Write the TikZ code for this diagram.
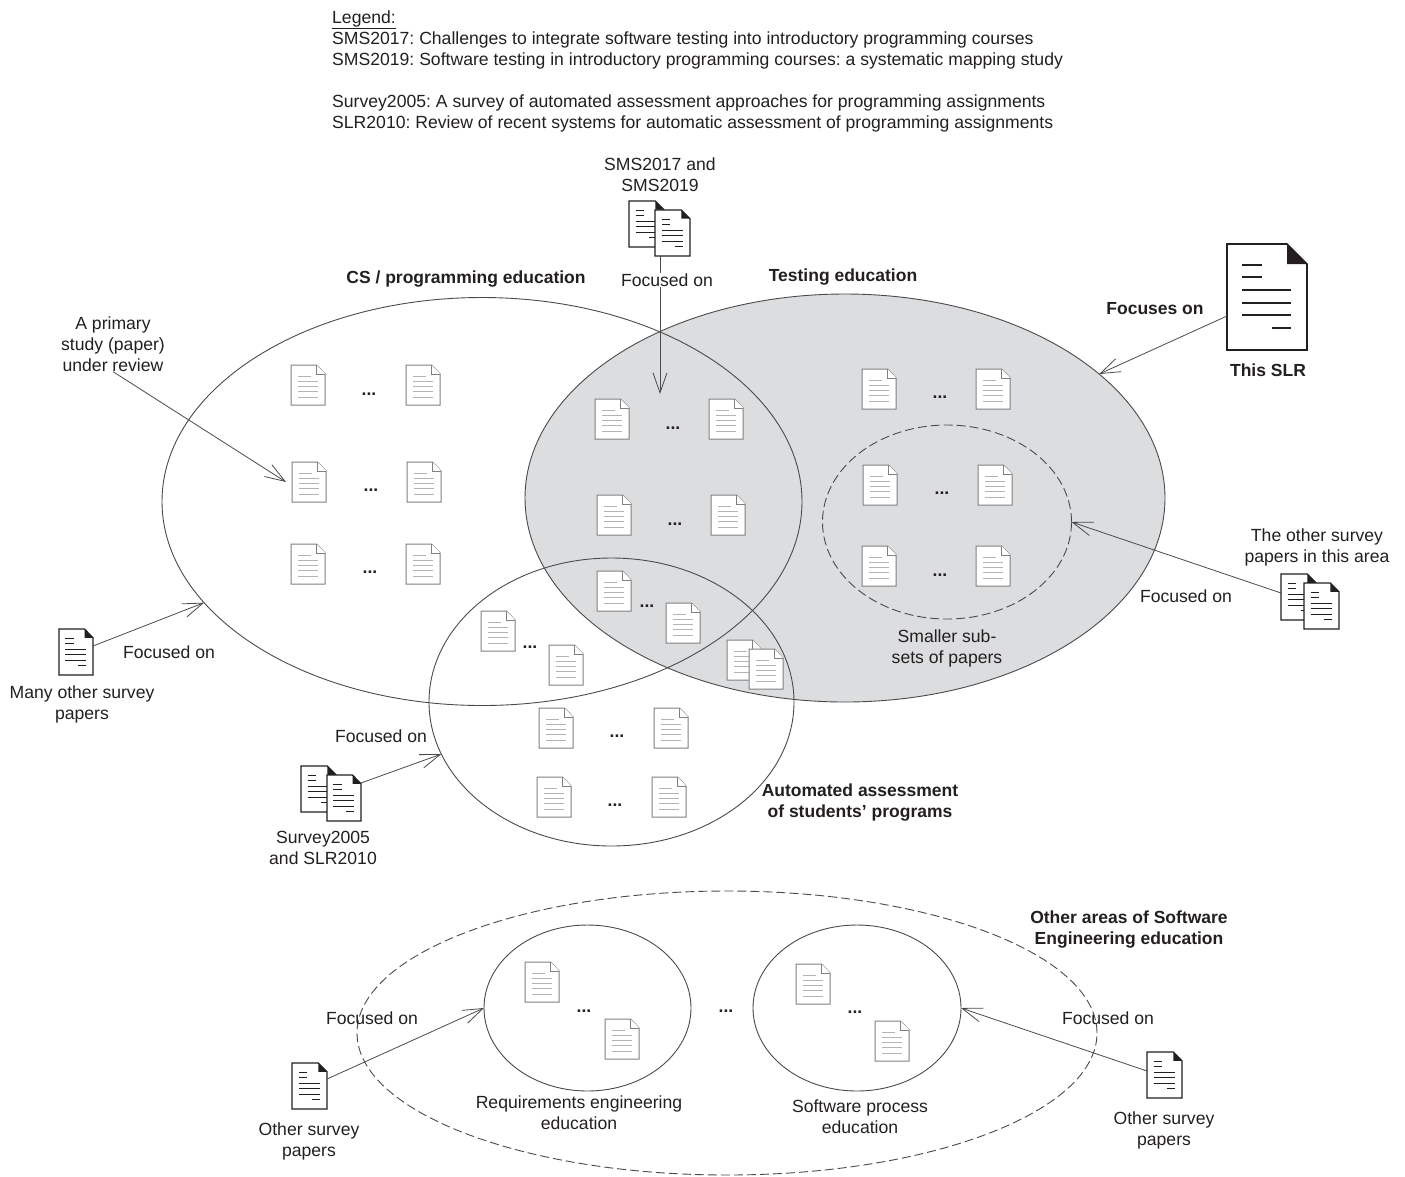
\documentclass[tikz,border=0pt]{standalone}
\usepackage{fontspec}
\setmainfont{Liberation Sans}
\usetikzlibrary{shapes.geometric,arrows.meta,calc}
\frenchspacing
\definecolor{linegray}{HTML}{4A4A4A}
\definecolor{regionfill}{HTML}{DCDDDF}
\definecolor{docgray}{HTML}{808080}
\definecolor{doclines}{HTML}{B4B4B4}
\definecolor{inkc}{HTML}{231F20}
\tikzset{
  region/.style={ellipse,draw=linegray,line width=0.9pt,inner sep=0pt,outer sep=0pt},
  regiondash/.style={region,dash pattern=on 9pt off 4pt},
  lab/.style={inner sep=0pt,align=center,text=inkc,font=\fontsize{17.6}{21}\selectfont},
  blab/.style={lab,font=\fontsize{17.5}{21}\selectfont\bfseries},
  labw/.style={lab,fill=white,inner xsep=0pt,inner ysep=1pt},
  dotsl/.style={inner sep=0pt,text=inkc,anchor=base,font=\fontsize{17.5}{21}\selectfont\bfseries},
  conn/.style={draw=linegray,line width=0.8pt,-{Straight Barb[length=20pt,width=14pt]}},
  docbox/.style={inner sep=0pt,outer sep=0pt},
}
\newcommand{\sdoc}[3]{%
 \begin{scope}[shift={(#2,#3)},x=34pt,y=-40pt]
  \node[docbox,minimum width=34pt,minimum height=40pt] (#1) at (.5,.5) {};
  \draw[docgray,line width=1pt,fill=white,line join=miter] (0,0) -- (.75,0) -- (1,.22) -- (1,1) -- (0,1) -- cycle;
  \draw[docgray,line width=0.6pt,fill=white] (.75,0) -- (.75,.22) -- (1,.22);
  \draw[doclines,line width=0.9pt] (.21,.275) -- (.6,.275) (.21,.417) -- (.8,.417) (.21,.54) -- (.8,.54) (.21,.667) -- (.8,.667) (.21,.808) -- (.8,.808);
 \end{scope}}
\newcommand{\bdoc}[7]{%
 \begin{scope}[shift={(#2,#3)},x=#4pt,y=-#5pt]
  \node[docbox,minimum width=#4pt,minimum height=#5pt] (#1) at (.5,.5) {};
  \draw[inkc,line width=#6pt,fill=white] (0,0) -- (.75,0) -- (1,.19) -- (1,1) -- (0,1) -- cycle;
  \fill[inkc] (.75,0) -- (1,.19) -- (.75,.19) -- cycle;
  \draw[inkc,line width=#7pt] (.19,.195) -- (.44,.195) (.19,.314) -- (.44,.314) (.19,.434) -- (.8,.434) (.19,.553) -- (.8,.553) (.19,.673) -- (.8,.673) (.56,.792) -- (.8,.792);
 \end{scope}}
\begin{document}
\begin{tikzpicture}[x=1pt,y=-1pt]
\useasboundingbox (0,0) rectangle (1405,1176);
% regions
\node[region,fill=regionfill,minimum width=640pt,minimum height=408pt] (testing) at (845,498) {};
\node[region,minimum width=640pt,minimum height=408pt] (cs) at (482,501.5) {};
\node[region,minimum width=365pt,minimum height=288pt] (auto) at (611.5,702) {};
\node[regiondash,minimum width=249pt,minimum height=194pt] (subset) at (947,522) {};
\node[regiondash,minimum width=740pt,minimum height=284pt] (other) at (727,1033) {};
\node[region,minimum width=207pt,minimum height=166pt] (req) at (587.5,1008) {};
\node[region,minimum width=208pt,minimum height=166pt] (proc) at (857,1008) {};
% small papers
\sdoc{a1}{291}{365}\sdoc{a2}{406}{365}
\sdoc{a3}{292}{462}\sdoc{a4}{407}{462}
\sdoc{a5}{291}{544}\sdoc{a6}{406}{544}
\sdoc{b1}{595}{399}\sdoc{b2}{709}{399}
\sdoc{b3}{597}{495}\sdoc{b4}{711}{495}
\sdoc{b5}{597}{571}\sdoc{b6}{666}{603}
\sdoc{c1}{862}{369}\sdoc{c2}{976}{369}
\sdoc{c3}{863}{465}\sdoc{c4}{978}{465}
\sdoc{c5}{862}{546}\sdoc{c6}{976}{546}
\sdoc{d1}{481}{611}\sdoc{d2}{549}{645}
\sdoc{d3}{727}{640}\sdoc{d4}{749}{649}
\sdoc{d5}{539}{708}\sdoc{d6}{654}{708}
\sdoc{d7}{537}{777}\sdoc{d8}{652}{777}
\sdoc{e1}{525}{962}\sdoc{e2}{605}{1019}
\sdoc{e3}{796}{964}\sdoc{e4}{875}{1021}
% ellipsis marks
\foreach \nm/\px/\py in {k1/369/395,k2/371/491,k3/370/573,k4/673/429,k5/675/525,k6/647/607,k7/940/398,k8/942/494,k9/940/576,k10/530/648,k11/617/737,k12/615/806,k13/584/1012,k14/855/1013,k15/726/1012}
  \node[dotsl] (\nm) at (\px,\py) {...};
% survey papers
\bdoc{sms1}{629}{201}{35}{46}{1.2}{0.9}\bdoc{sms2}{655}{210}{35}{46}{1.2}{0.9}
\bdoc{many}{59}{629}{34}{46}{1.2}{0.9}
\bdoc{oth1}{1281}{574}{35}{46}{1.2}{0.9}\bdoc{oth2}{1304}{583}{35}{46}{1.2}{0.9}
\bdoc{sur1}{301}{766}{35}{46}{1.2}{0.9}\bdoc{sur2}{327}{775}{34}{46}{1.2}{0.9}
\bdoc{left}{292}{1063}{35}{46}{1.2}{0.9}
\bdoc{right}{1147}{1052}{35}{46}{1.2}{0.9}
\bdoc{slr}{1227}{244}{80}{106}{1.6}{2.2}
% labels
\node[lab,anchor=north west,align=left] (legend) at (332,10.5) {\underline{Legend:}\\SMS2017: Challenges to integrate software testing into introductory programming courses\\SMS2019: Software testing in introductory programming courses: a systematic mapping study\\[21pt]Survey2005: A survey of automated assessment approaches for programming assignments\\SLR2010: Review of recent systems for automatic assessment of programming assignments};
\node[lab] (tsms) at (660,175) {SMS2017 and\\SMS2019};
\node[blab] (tcs) at (466,279) {CS / programming education};
\node[blab] (ttest) at (843,277) {Testing education};
\node[blab] (tfocus) at (1155,309) {Focuses on};
\node[blab] (tslr) at (1268,370) {This SLR};
\node[lab] (tprim) at (113,344) {A primary\\study (paper)\\under review};
\node[lab] (toth) at (1317,547) {The other survey\\papers in this area};
\node[lab] (tf1) at (1186,596) {Focused on};
\node[lab] (tsub) at (947,648) {Smaller sub-\\sets of papers};
\node[lab] (tf2) at (169,652) {Focused on};
\node[lab] (tmany) at (82,704) {Many other survey\\papers};
\node[lab] (tf3) at (381,736) {Focused on};
\node[lab] (tsur) at (323,848) {Survey2005\\and SLR2010};
\node[blab] (tauto) at (860,802) {Automated assessment\\of students’ programs};
\node[blab] (tother) at (1129,929) {Other areas of Software\\Engineering education};
\node[lab] (tf4) at (372,1018) {Focused on};
\node[lab] (tf5) at (1108,1018) {Focused on};
\node[lab] (treq) at (579,1113) {Requirements engineering\\education};
\node[lab] (tproc) at (860,1117) {Software process\\education};
\node[lab] (tleft) at (309,1141) {Other survey\\papers};
\node[lab] (tright) at (1164,1130) {Other survey\\papers};
% connectors
\coordinate (smstip) at (660,394);
\draw[conn] (smstip |- sms2.south) -- (smstip);
\node[labw] (tsmsf) at (667,280) {Focused on};
\draw[conn] ([yshift=6pt]many.east) -- (cs.200.1);
\draw[conn] (tprim.south) -- ([xshift=-6pt]a3.west);
\draw[conn] ([yshift=-19pt]slr.west) -- (testing.26.9);
\draw[conn] ([yshift=4pt]oth1.west) -- (subset.east);
\draw[conn] ([yshift=15pt]sur2.east) -- (auto.197.5);
\draw[conn] ([yshift=7pt]left.east) -- (req.west);
\draw[conn] ([yshift=4pt]right.west) -- (proc.east);
\end{tikzpicture}
\end{document}
